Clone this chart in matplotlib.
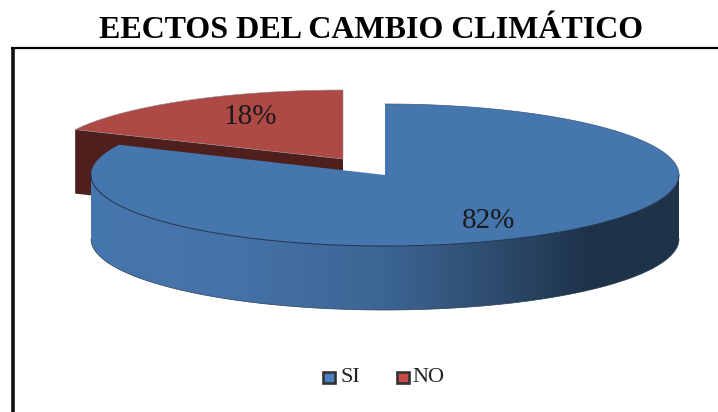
import numpy as np
import matplotlib
matplotlib.use('Agg')
from matplotlib import pyplot as plt
from matplotlib.colors import LinearSegmentedColormap
from matplotlib.patches import Polygon, Rectangle

title = 'EECTOS DEL CAMBIO CLIMÁTICO'
labels = ['SI', 'NO']
values = [82, 18]
pct_labels = ['82%', '18%']

W, H = 718, 412
fig = plt.figure(figsize=(W/100, H/100), dpi=100)
ax = fig.add_axes([0, 0, 1, 1])
serif = 'Liberation Serif'

# shade of the blue rim, left to right
rim = LinearSegmentedColormap.from_list('rim', [(0, '#4676ae'), (0.25, '#4572a8'), (0.5, '#3c6593'),
                                                (0.72, '#2b4767'), (0.85, '#1e3249'), (1, '#1e3249')])

total = sum(values)
sweep = 2*np.pi*values[1]/total  # red slice runs from 12 o'clock counter clockwise
start = np.pi/2
end = start + sweep


def ell(cx, cy, rx, ry, t):
    return np.column_stack([cx + rx*np.cos(t), cy - ry*np.sin(t)])


# red slice, pulled out
rx, ry, cx, cy, depth = 296, 69, 343, 159, 64
t = np.linspace(start, end, 80)
tip = ell(cx, cy, rx, ry, np.array([end]))[0]
ax.add_patch(Polygon([tip, (cx, cy), (cx, cy+depth), (tip[0], tip[1]+depth)], fc='#4e1f1c', ec='none', zorder=1))
ax.add_patch(Polygon(np.vstack([ell(cx, cy, rx, ry, t), [(cx, cy)]]), fc='#ae4946', ec='#8c8c8c', lw=0.4, zorder=2))

# blue slice, rim is a gradient clipped to the rim shape
rx, ry, cx, cy, depth = 294, 71, 385, 175, 64
t = np.linspace(np.pi, 2*np.pi, 300)
top = ell(cx, cy, rx, ry, t)
shape = Polygon(np.vstack([top, (top + [0, depth])[::-1]]), fc='none', ec='none', transform=ax.transData)
ax.add_patch(shape)
grad = np.linspace(0, 1, 588).reshape(1, -1)
im = ax.imshow(grad, cmap=rim, extent=[cx-rx, cx+rx, cy+ry+depth, cy-ry], aspect='auto', zorder=3)
im.set_clip_path(shape)
ax.plot(*ell(cx, cy+depth, rx, ry, t).T, color='#2c3f55', lw=0.5, zorder=4)
t2 = np.linspace(end, start + 2*np.pi, 400)
ax.add_patch(Polygon(np.vstack([ell(cx, cy, rx, ry, t2), [(cx, cy)]]), fc='#4676ae', ec='none', zorder=5))
ax.plot(*ell(cx, cy, rx, ry, t).T, color='#1f3148', lw=0.7, zorder=6)
ax.plot(*ell(cx, cy, rx, ry, np.linspace(0, np.pi/2, 80)).T, color='#3a5a80', lw=0.5, zorder=6)

ax.text(489, 221, pct_labels[0], family=serif, fontsize=21, color='#1a1a1a', ha='center', va='center', zorder=7)
ax.text(250, 117, pct_labels[1], family=serif, fontsize=21, color='#1a1a1a', ha='center', va='center', zorder=7)

# title and frame
ax.text(371.5, 30, title, family=serif, fontsize=23, fontweight='bold', ha='center', va='center', color='black')
ax.plot([12.5, 12.5], [H, 47], color='#111111', lw=2.6, solid_capstyle='butt')
ax.plot([11, W], [48, 48], color='black', lw=1.6, solid_capstyle='butt')

# legend
for x, lab, col, lx in zip([323, 397], labels, ['#4a7fc4', '#c84b48'], [341, 412]):
    ax.add_patch(Rectangle((x, 371.5), 12, 11, fc=col, ec='#333333', lw=1.9))
    ax.text(lx, 377, lab, family=serif, fontsize=16, color='#222222', ha='left', va='center')

ax.set_xlim(0, W)
ax.set_ylim(H, 0)
ax.axis('off')
fig.savefig('out.png', dpi=100)
